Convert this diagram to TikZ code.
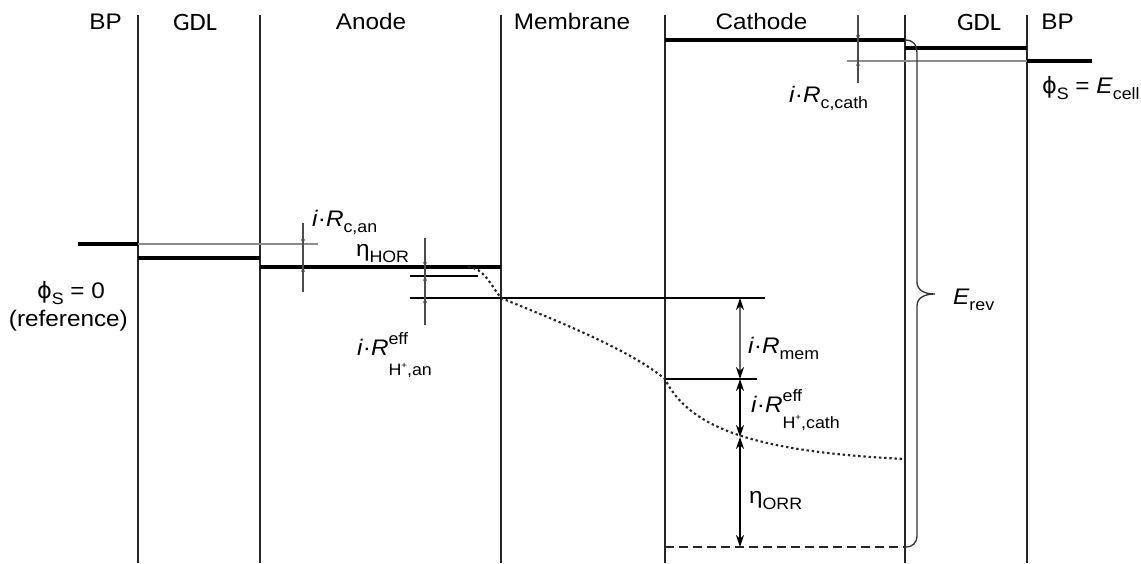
\documentclass[tikz,border=0pt]{standalone}
\usepackage{fontspec}
\setmainfont{Liberation Sans}[FakeStretch=1.08]
\newfontfamily\gdlfont{Carlito}[FakeStretch=1.05]
\newfontfamily\phifont{DejaVu Sans}
\usetikzlibrary{arrows.meta}
\newcommand{\msz}{\fontsize{22.5}{25}\selectfont}
\newcommand{\ssz}{\fontsize{16.5}{18}\selectfont}
\newcommand{\lo}[1]{\raisebox{-0.28em}{\ssz #1}}
\newcommand{\phis}{{\phifont ϕ}\lo{S}}
\newcommand{\hplus}{H\raisebox{0.45em}{\fontsize{9}{9}\selectfont +}}
\begin{document}
\begin{tikzpicture}[x=1pt,y=-1pt,
  lab/.style={inner sep=0pt,outer sep=0pt,font=\msz},
  layer/.style={line width=1.6pt,black!85},
  fermi/.style={line width=3.2pt,black},
  thin/.style={line width=1.4pt,black},
  greyline/.style={line width=1.3pt,black!45},
  dimline/.style={line width=1.3pt,black!70},
  tiny/.style={-{Stealth[length=5pt,width=4pt]}},
  dimarrow/.style={line width=1.3pt,black!60,{Stealth[length=12pt,width=8pt,black]}-{Stealth[length=12pt,width=8pt,black]}},
  dotcurve/.style={line width=2.1pt,black!85,dash pattern=on 2.4pt off 2.8pt},
  dashline/.style={line width=1.7pt,black!85,dash pattern=on 9pt off 5pt}]
\useasboundingbox (0,0) rectangle (1141,563);
\fill[white] (0,0) rectangle (1141,563);

% layer boundaries
\foreach \xx/\nm in {138/a,260/b,501/c,665/d,905/e,1027/f}{
  \draw[layer] (\xx,15) coordinate (top\nm) -- (\xx,563) coordinate (bot\nm);
}

% top labels
\node[lab,anchor=base] (bpl) at (105.5,29) {BP};
\node[lab,anchor=base,font=\gdlfont\fontsize{25}{27}\selectfont] (gdll) at (195,30) {GDL};
\node[lab,anchor=base] (anode) at (371,29) {Anode};
\node[lab,anchor=base] (memb) at (572,29) {Membrane};
\node[lab,anchor=base] (cath) at (761.5,29) {Cathode};
\node[lab,anchor=base,font=\gdlfont\fontsize{25}{27}\selectfont] (gdlr) at (979,30) {GDL};
\node[lab,anchor=base] (bpr) at (1057.5,29) {BP};

% Fermi levels
\draw[fermi] (78,244) -- (138,244);
\draw[fermi] (138,258) -- (260,258);
\draw[fermi] (260,267) -- (501,267);
\draw[fermi] (665,40) -- (905,40);
\draw[fermi] (905,48) -- (1027,48);
\draw[fermi] (1027,61) -- (1092,61);

% grey reference lines
\draw[greyline] (138,244) -- (318,244);
\draw[greyline] (847,61) -- (1027,61);

% thin level lines
\draw[thin] (410,276) -- (478,276);
\draw[thin] (410,298) -- (765,298);
\draw[thin] (665,379) -- (757,379);
\draw[dashline] (665,547) -- (905,547);

% small dimension ticks
\draw[dimline] (303,223) -- (303,292);
\draw[dimline,tiny] (303,230) -- (303,244);
\draw[dimline,tiny] (303,282) -- (303,267);
\draw[dimline] (425,238) -- (425,325);
\draw[dimline,tiny] (425,253) -- (425,267);
\draw[dimline,tiny] (425,290) -- (425,276);
\draw[dimline,tiny] (425,312) -- (425,298);
\draw[dimline] (858,15) -- (858,83);
\draw[dimline,tiny] (858,26) -- (858,40);
\draw[dimline,tiny] (858,75) -- (858,61);

% big dimension arrows
\coordinate (m1) at (740,298);
\coordinate (m2) at (740,379);
\coordinate (m3) at (740,437);
\coordinate (m4) at (740,547);
\draw[dimarrow] (m1) -- (m2);
\draw[dimarrow,black] (m2) -- (m3);
\draw[dimarrow,black] (m3) -- (m4);

% potential curve (dotted)
\draw[dotcurve] (468,267) .. controls (484,268) and (490,284) .. (501,298)
  .. controls (560,322) and (630,350) .. (665,379)
  .. controls (690,430) and (760,452) .. (905,459);

% brace E_rev
\draw[line width=1.3pt,black!80] (905,40) .. controls (913,40) and (917,44) .. (917,54)
  -- (917,282) .. controls (917,290) and (924,294) .. (935,294)
  .. controls (924,294) and (917,298) .. (917,306)
  -- (917,535) .. controls (917,543) and (913,547) .. (905,547);

% labels
\node[lab,anchor=base west] (phi0) at (37,298) {\phis\ = 0};
\node[lab,anchor=base west] (ref) at (9,326) {(reference)};
\node[lab,anchor=base west] (rcan) at (312,226) {\textit{i}·\textit{R}\lo{c,an}};
\node[lab,anchor=base west] (hor) at (356,256) {η\lo{HOR}};
\node[lab,anchor=base west] (rhan) at (357,355) {\textit{i}·\textit{R}\rlap{\raisebox{0.48em}{\ssz eff}}\raisebox{-0.92em}{\ssz \hplus,an}};
\node[lab,anchor=base west] (rccath) at (789,102) {\textit{i}·\textit{R}\lo{c,cath}};
\node[lab,anchor=base west] (phie) at (1042,93) {\phis\ = \textit{E}\lo{cell}};
\node[lab,anchor=base west] (erev) at (953,304) {\textit{E}\lo{rev}};
\node[lab,anchor=base west] (rmem) at (748,353) {\textit{i}·\textit{R}\lo{mem}};
\node[lab,anchor=base west] (rhcath) at (751,412) {\textit{i}·\textit{R}\rlap{\raisebox{0.48em}{\ssz eff}}\raisebox{-0.72em}{\ssz \hplus,cath}};
\node[lab,anchor=base west] (orr) at (749,503) {η\lo{ORR}};
\end{tikzpicture}
\end{document}
